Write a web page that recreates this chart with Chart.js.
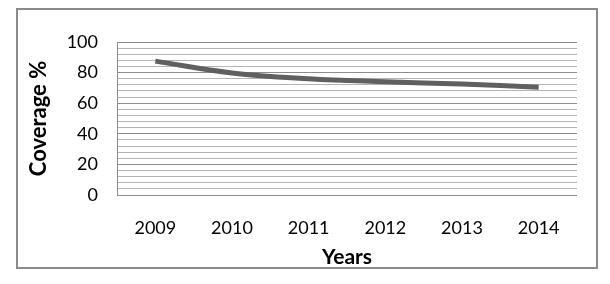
<!DOCTYPE html>
<html>
<head>
<meta charset="utf-8">
<script src="https://cdn.jsdelivr.net/npm/chart.js"></script>
<style>
  body { margin: 0; background: #fff; }
  #frame { position: absolute; left: 16px; top: 8px; width: 578px; height: 257px; border: 2px solid #8a8a8a; }
  #wrap { position: absolute; left: 0; top: 0; width: 610px; height: 284px; }
</style>
</head>
<body>
<div id="frame"></div>
<div id="wrap"><canvas id="chart"></canvas></div>
<script>
const years = ["2009", "2010", "2011", "2012", "2013", "2014"];
const coverage = [87.5, 79.8, 76, 74, 72.5, 70.5];
const yTicks = [0, 20, 40, 60, 80, 100];

new Chart(document.getElementById("chart"), {
  type: "line",
  data: {
    labels: years,
    datasets: [{
      data: coverage,
      borderColor: "#606060",
      borderWidth: 5,
      pointRadius: 0,
      tension: 0.4,
      fill: false
    }]
  },
  options: {
    responsive: true,
    maintainAspectRatio: false,
    animation: false,
    layout: { padding: { left: 17, top: 42, right: 33, bottom: 14 } },
    plugins: { legend: { display: false }, tooltip: { enabled: false } },
    scales: {
      x: {
        offset: true,
        grid: { display: false, drawTicks: false },
        border: { display: false },
        ticks: { padding: 22, color: "#000", font: { family: "Lato", size: 18 } },
        title: { display: true, text: "Years", color: "#000", padding: { top: 6, bottom: 0 },
                 font: { family: "Lato", size: 21, weight: "bold" } },
        afterFit: s => { s.height = 75; }
      },
      y: {
        min: 0, max: 100,
        ticks: {
          stepSize: 4, padding: 19, autoSkip: false, color: "#000", font: { family: "Lato", size: 18 },
          callback: v => yTicks.includes(v) ? v : ""
        },
        grid: {
          drawTicks: false,
          color: c => c.tick.value % 20 === 0 ? "#8c8c8c" : "#b4b4b4",
          lineWidth: 1
        },
        border: { display: true, color: "#8c8c8c", width: 1 },
        title: { display: true, text: "Coverage %", color: "#000", padding: { top: 9, bottom: 0 },
                 font: { family: "Lato", size: 22, weight: "bold" } },
        afterFit: s => { s.width = 100; }
      }
    }
  }
});
</script>
</body>
</html>
